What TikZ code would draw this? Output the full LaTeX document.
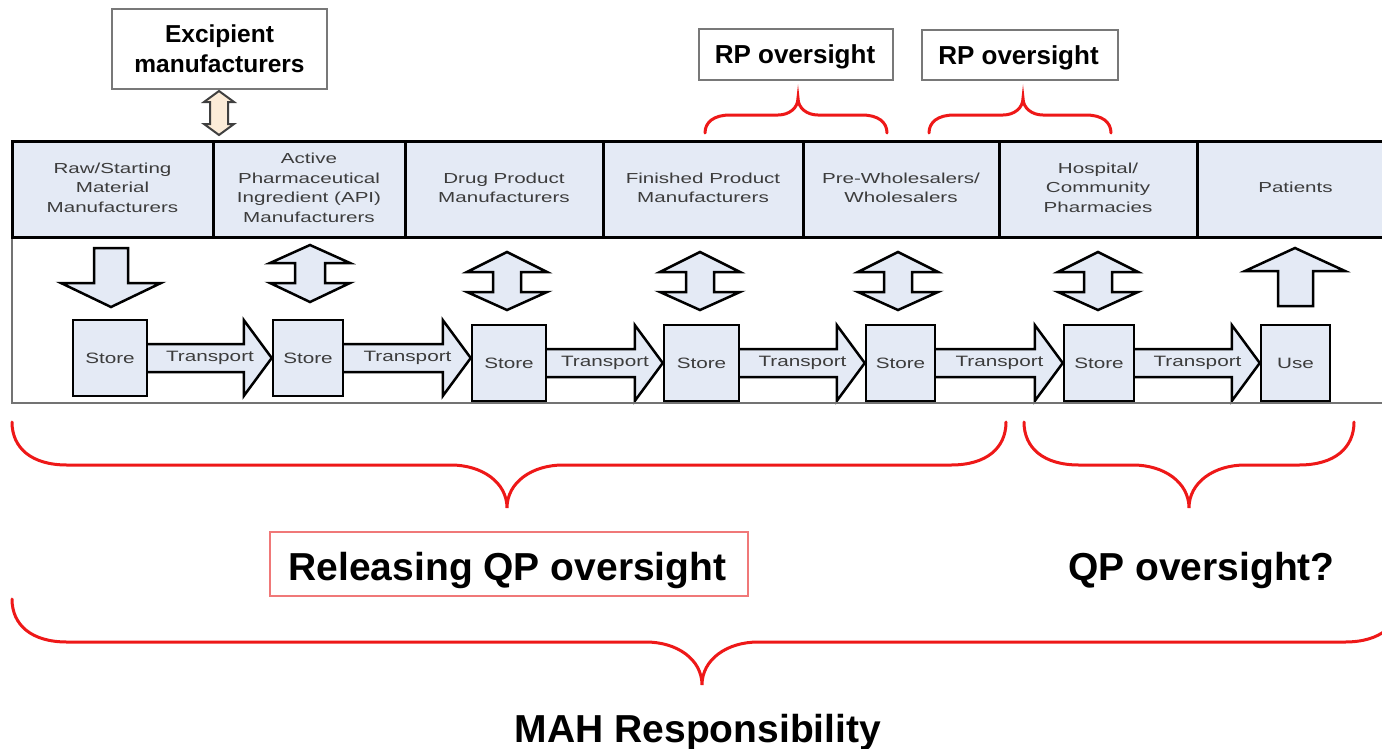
\documentclass[tikz,border=0pt]{standalone}
\usepackage{fontspec}
\usepackage{graphicx}
\setmainfont{Liberation Sans}
\usetikzlibrary{calc}
\pgfdeclarelayer{back}
\pgfdeclarelayer{mid}
\pgfsetlayers{back,mid,main}
\definecolor{cellfill}{RGB}{228,234,245}
\definecolor{bred}{RGB}{238,24,24}
\definecolor{relred}{RGB}{240,120,120}
\definecolor{peach}{RGB}{252,236,216}
\definecolor{txtgray}{RGB}{60,60,60}
\definecolor{boxgray}{RGB}{120,120,120}
\newcommand\hs[1]{{\fontsize{14.5}{19.5}\selectfont\color{txtgray}\scalebox{1.42}[1]{\begin{tabular}{@{}c@{}}#1\end{tabular}}}}
\newcommand\st[1]{{\fontsize{15}{18}\selectfont\color{txtgray}\scalebox{1.38}[1]{#1}}}
% transport arrow between two store nodes
\newcommand\tarr[2]{%
  \coordinate (t-#1) at (#2.west|-#1.east);
  \begin{pgfonlayer}{mid}
  \draw[blk] ($(#1.east)+(-2,-14)$) -- ($(t-#1)+(-28,-14)$) -- ($(t-#1)+(-28,-38)$) -- (t-#1)
     -- ($(t-#1)+(-28,38)$) -- ($(t-#1)+(-28,14)$) -- ($(#1.east)+(-2,14)$) -- cycle;
  \end{pgfonlayer}
  \node (lab-#1) at ($(#1.east)!0.5!(t-#1)$) {\st{Transport}};}
% vertical double arrow: cx, ytop, yw1, yw2, ybot, head half width, shaft half width
\newcommand\dbl[8][blk]{%
  \draw[#1] (#2,#3) -- ({#2+#7},#4) -- ({#2+#8},#4) -- ({#2+#8},#5) -- ({#2+#7},#5) -- (#2,#6)
     -- ({#2-#7},#5) -- ({#2-#8},#5) -- ({#2-#8},#4) -- ({#2-#7},#4) -- cycle;}
% brace: x0 x1 xc y0 ym yt rx rc
\newcommand\brc[8]{%
  \draw[brace] (#1,#4) .. controls (#1,{#4+0.6*(#5-#4)}) and ({#1+0.35*#7},#5) .. ({#1+#7},#5)
    -- ({#3-#8},#5) .. controls ({#3-0.45*#8},#5) and (#3,{#5+0.4*(#6-#5)}) .. (#3,#6)
    .. controls (#3,{#5+0.4*(#6-#5)}) and ({#3+0.45*#8},#5) .. ({#3+#8},#5)
    -- ({#2-#7},#5) .. controls ({#2-0.35*#7},#5) and (#2,{#4+0.6*(#5-#4)}) .. (#2,#4);}
\begin{document}
\begin{tikzpicture}[x=1pt,y=-1pt,
  blk/.style={draw=black, line width=2.5pt, fill=cellfill, line join=miter},
  cell/.style={draw=black, line width=3pt, fill=cellfill, minimum height=96pt, inner sep=0pt},
  store/.style={draw=black, line width=2.5pt, fill=cellfill, minimum height=76pt, inner sep=0pt},
  graybox/.style={draw=boxgray, line width=1.5pt, fill=white, inner sep=0pt},
  brace/.style={draw=bred, line width=3pt, line cap=round},
  boldtxt/.style={text=black, inner sep=0pt},
]
\useasboundingbox (0,0) rectangle (1382,748);
\begin{pgfonlayer}{back}
\fill[white] (0,0) rectangle (1382,748);
\end{pgfonlayer}

% excipient box and arrow
\node[graybox, minimum width=215pt, minimum height=80pt] (exc) at (219.5,49) {};
\node[boldtxt, align=center, font=\fontsize{24.5}{30}\selectfont\bfseries] (exct) at (219.5,49) {Excipient\\manufacturers};
\dbl[draw=black!75, line width=2pt, fill=peach, line join=miter]{219}{91}{102}{124}{135}{15}{9}

% RP oversight boxes
\node[graybox, minimum width=194pt, minimum height=51pt] (rp1) at (796,54.5) {};
\node[boldtxt, anchor=base, font=\fontsize{26}{30}\selectfont\bfseries] (rp1t) at (795,63.5) {RP oversight};
\node[graybox, minimum width=196pt, minimum height=50pt] (rp2) at (1020,55) {};
\node[boldtxt, anchor=base, font=\fontsize{26}{30}\selectfont\bfseries] (rp2t) at (1018.5,64) {RP oversight};
\brc{705}{887}{798}{133}{115}{98}{25}{20}
\brc{929}{1111}{1023}{133}{115}{98}{25}{20}

% lower frame
\draw[black!55, line width=1.2pt] (12,237) -- (12,403) -- (1382,403);

% header cells
\node[cell, minimum width=201pt] (h1) at (112.5,189) {\hs{Raw/Starting\\Material\\Manufacturers}};
\node[cell, minimum width=192pt] (h2) at (309,189) {\hs{Active\\Pharmaceutical\\Ingredient (API)\\Manufacturers}};
\node[cell, minimum width=198pt] (h3) at (504,189) {\hs{Drug Product\\Manufacturers}};
\node[cell, minimum width=200pt] (h4) at (703,189) {\hs{Finished Product\\Manufacturers}};
\node[cell, minimum width=196pt] (h5) at (901,189) {\hs{Pre-Wholesalers/\\Wholesalers}};
\node[cell, minimum width=198pt] (h6) at (1098,189) {\hs{Hospital/\\Community\\Pharmacies}};
\begin{scope}
\clip (0,0) rectangle (1382,748);
\node[cell, minimum width=197pt] (h7) at (1295.5,189) {\hs{Patients}};
\end{scope}

% vertical arrows
\draw[blk] (94,248) -- (128,248) -- (128,283) -- (161,283) -- (111,307) -- (61,283) -- (94,283) -- cycle;
\dbl{310}{245}{263}{283}{302}{40}{15}
\dbl{507}{252}{272}{292}{310}{40}{14}
\dbl{700}{252}{272}{292}{310}{40}{14}
\dbl{898}{252}{272}{292}{310}{40}{14}
\dbl{1098}{252}{272}{292}{310}{40}{14}
\draw[blk] (1278,306) -- (1313,306) -- (1313,271) -- (1345,271) -- (1295,248) -- (1245,271) -- (1278,271) -- cycle;

% stores
\node[store, minimum width=74pt] (s1) at (110,358) {\st{Store}};
\node[store, minimum width=70pt] (s2) at (308,358) {\st{Store}};
\node[store, minimum width=74pt] (s3) at (509,363) {\st{Store}};
\node[store, minimum width=75pt] (s4) at (701.5,363) {\st{Store}};
\node[store, minimum width=69pt] (s5) at (900.5,363) {\st{Store}};
\node[store, minimum width=70pt] (s6) at (1099,363) {\st{Store}};
\node[store, minimum width=69pt] (s7) at (1295.5,363) {\st{Use}};
\tarr{s1}{s2}
\tarr{s2}{s3}
\tarr{s3}{s4}
\tarr{s4}{s5}
\tarr{s5}{s6}
\tarr{s6}{s7}

% bottom braces
\brc{12}{1006}{507}{422}{465}{508}{55}{56}
\brc{1024}{1354}{1189}{422}{465}{508}{55}{56}
\begin{scope}
\clip (0,0) rectangle (1382,748);
\brc{12}{1400}{702}{599}{642}{685}{55}{56}
\end{scope}

% bottom labels
\node[draw=relred, line width=1.3pt, minimum width=478pt, minimum height=64pt, inner sep=0pt] (rel) at (509,564) {};
\node[boldtxt, anchor=base, font=\fontsize{39}{44}\selectfont\bfseries] (relt) at (507.5,580) {Releasing QP oversight};
\node[boldtxt, anchor=base, font=\fontsize{39}{44}\selectfont\bfseries] (qpq) at (1201.5,580) {QP oversight?};
\node[boldtxt, anchor=base, font=\fontsize{39}{44}\selectfont\bfseries] (mah) at (698,742) {MAH Responsibility};
\end{tikzpicture}
\end{document}
